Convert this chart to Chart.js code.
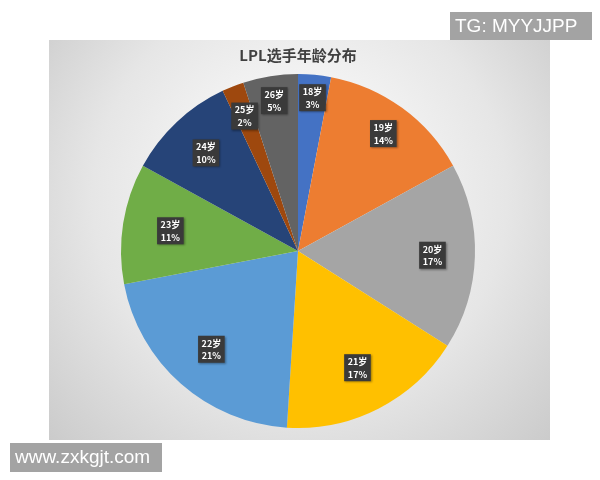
<!DOCTYPE html>
<html>
<head>
<meta charset="utf-8">
<script src="https://cdn.jsdelivr.net/npm/chart.js@4"></script>
<style>
  html, body { margin: 0; padding: 0; background: #fff; }
  #wrap { width: 600px; height: 480px; }
</style>
</head>
<body>
<div id="wrap"><canvas id="myChart" width="600" height="480"></canvas></div>
<script>
const ages = ['18岁', '19岁', '20岁', '21岁', '22岁', '23岁', '24岁', '25岁', '26岁'];
const shares = [3, 14, 17, 17, 21, 11, 10, 2, 5];
const sliceColors = ['#4472C4', '#ED7D31', '#A5A5A5', '#FFC000', '#5B9BD5', '#70AD47', '#264478', '#9E480E', '#636363'];
// how far out each label box sits, as a share of the radius
const labelDist = [0.87, 0.82, 0.76, 0.74, 0.74, 0.73, 0.76, 0.82, 0.86];

const backdrop = {
    id: 'backdrop',
    beforeDraw(chart) {
        const ctx = chart.ctx;
        ctx.save();
        ctx.fillStyle = '#fff';
        ctx.fillRect(0, 0, chart.width, chart.height);
        const g = ctx.createRadialGradient(300, 170, 20, 300, 220, 360);
        g.addColorStop(0, '#fdfdfd');
        g.addColorStop(0.55, '#e6e6e6');
        g.addColorStop(1, '#c6c6c6');
        ctx.fillStyle = g;
        ctx.fillRect(49, 40, 501, 400);
        ctx.restore();
    }
};

const sliceLabels = {
    id: 'sliceLabels',
    afterDatasetsDraw(chart) {
        const ctx = chart.ctx;
        const meta = chart.getDatasetMeta(0);
        ctx.save();
        ctx.font = 'bold 9px "Noto Sans CJK SC", "DejaVu Sans", sans-serif';
        ctx.textAlign = 'center';
        ctx.textBaseline = 'middle';
        meta.data.forEach((arc, i) => {
            const p = arc.getProps(['x', 'y', 'startAngle', 'endAngle', 'outerRadius'], true);
            const mid = (p.startAngle + p.endAngle) / 2;
            const r = p.outerRadius * labelDist[i];
            const cx = p.x + Math.cos(mid) * r;
            const cy = p.y + Math.sin(mid) * r;
            const line1 = ages[i];
            const line2 = shares[i] + '%';
            const w = Math.max(ctx.measureText(line1).width, ctx.measureText(line2).width) + 7;
            const h = 27;
            ctx.shadowColor = 'rgba(0,0,0,0.35)';
            ctx.shadowBlur = 2;
            ctx.shadowOffsetX = 1;
            ctx.shadowOffsetY = 1;
            ctx.fillStyle = '#3a3a3a';
            ctx.fillRect(cx - w / 2, cy - h / 2, w, h);
            ctx.shadowColor = 'transparent';
            ctx.fillStyle = '#fff';
            ctx.fillText(line1, cx, cy - 6);
            ctx.fillText(line2, cx, cy + 6.5);
        });
        ctx.restore();
    }
};

const watermarks = {
    id: 'watermarks',
    afterDraw(chart) {
        const ctx = chart.ctx;
        ctx.save();
        ctx.fillStyle = '#a3a3a3';
        ctx.fillRect(450, 12, 142, 28);
        ctx.fillRect(10, 443, 152, 29);
        ctx.fillStyle = '#fff';
        ctx.font = '19px "Liberation Sans", Arial, sans-serif';
        ctx.textBaseline = 'middle';
        ctx.textAlign = 'left';
        ctx.fillText('TG: MYYJJPP', 455, 27);
        ctx.fillText('www.zxkgjt.com', 15, 458);
        ctx.restore();
    }
};

const chart = new Chart(document.getElementById('myChart'), {
    type: 'pie',
    data: {
        labels: ages,
        datasets: [{
            data: shares,
            backgroundColor: sliceColors,
            borderWidth: 0
        }]
    },
    options: {
        responsive: false,
        animation: false,
        layout: {
            padding: { left: 121, right: 125, top: 0, bottom: 52 }
        },
        plugins: {
            legend: { display: false },
            tooltip: { enabled: false },
            title: {
                display: true,
                text: 'LPL选手年龄分布',
                color: '#404040',
                font: { family: '"Noto Sans CJK SC", sans-serif', size: 15, weight: 'bold', lineHeight: 1.2 },
                padding: { top: 46, bottom: 10 }
            }
        }
    },
    plugins: [backdrop, sliceLabels, watermarks]
});
</script>
</body>
</html>
